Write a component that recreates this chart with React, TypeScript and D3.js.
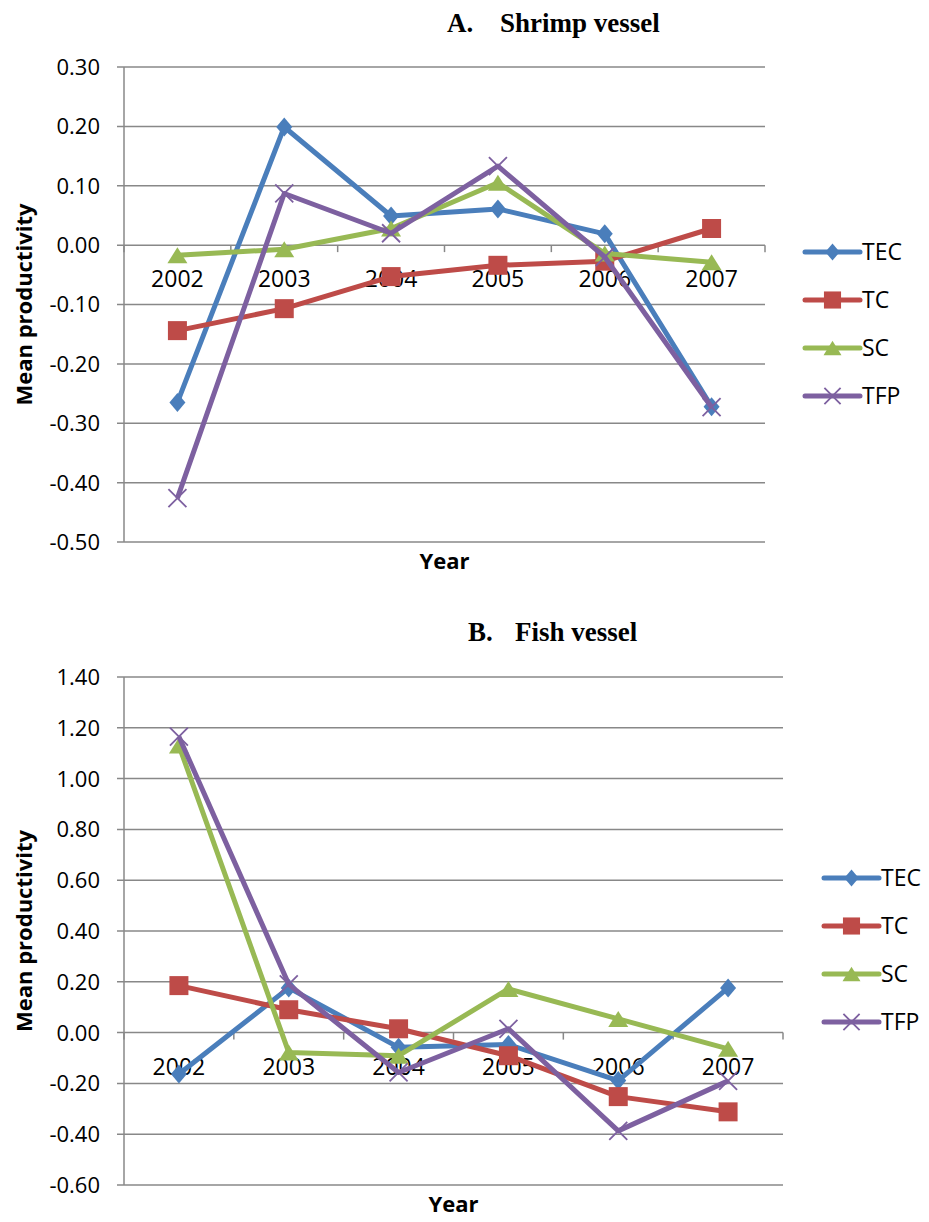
import React from 'react';
import * as d3 from 'd3';

// categories and series
const years = ['2002', '2003', '2004', '2005', '2006', '2007'];
const seriesNames = ['TEC', 'TC', 'SC', 'TFP'];
const seriesColors = ['#4A7EBB', '#BE4B48', '#98B954', '#7D60A0'];
const seriesMarkers = ['diamond', 'square', 'triangle', 'x'];

// A. Shrimp vessel
const shrimpTEC = [-0.265, 0.199, 0.049, 0.061, 0.019, -0.272];
const shrimpTC = [-0.144, -0.107, -0.053, -0.034, -0.027, 0.028];
const shrimpSC = [-0.017, -0.007, 0.028, 0.105, -0.014, -0.029];
const shrimpTFP = [-0.426, 0.087, 0.02, 0.133, -0.02, -0.273];
const shrimpTicks = [0.3, 0.2, 0.1, 0, -0.1, -0.2, -0.3, -0.4, -0.5];

// B. Fish vessel
const fishTEC = [-0.163, 0.176, -0.058, -0.047, -0.189, 0.176];
const fishTC = [0.185, 0.09, 0.015, -0.091, -0.252, -0.312];
const fishSC = [1.13, -0.078, -0.091, 0.172, 0.054, -0.064];
const fishTFP = [1.165, 0.19, -0.157, 0.015, -0.387, -0.19];
const fishTicks = [1.4, 1.2, 1.0, 0.8, 0.6, 0.4, 0.2, 0, -0.2, -0.4, -0.6];

const GRID = '#888888';
const SANS = '"Open Sans", "Liberation Sans", sans-serif';
const SERIF = '"Liberation Serif", "Times New Roman", serif';

const fmt = (v: number) => (Math.abs(v) < 1e-9 ? '0.00' : v.toFixed(2));

interface MarkerProps {
  kind: string;
  x: number;
  y: number;
  color: string;
  k?: number;
}

const Marker: React.FC<MarkerProps> = ({ kind, x, y, color, k = 1 }) => {
  if (kind === 'diamond') {
    const w = 8 * k, h = 9.5 * k;
    return <path d={`M${x},${y - h}L${x + w},${y}L${x},${y + h}L${x - w},${y}Z`} fill={color} />;
  }
  if (kind === 'square') {
    const s = 9.5 * k;
    return <rect x={x - s} y={y - s} width={2 * s} height={2 * s} fill={color} />;
  }
  if (kind === 'triangle') {
    const w = 10 * k, h = 8 * k;
    return <path d={`M${x},${y - h}L${x + w},${y + h}L${x - w},${y + h}Z`} fill={color} />;
  }
  const s = 9 * k;
  return (
    <path
      d={`M${x - s},${y - s}L${x + s},${y + s}M${x + s},${y - s}L${x - s},${y + s}`}
      stroke={color}
      strokeWidth={1.8}
      fill="none"
    />
  );
};

interface PanelProps {
  letter: string;
  name: string;
  letterX: number;
  nameX: number;
  titleY: number;
  series: number[][];
  ticks: number[];
  left: number;
  right: number;
  top: number;
  bottom: number;
  legendX: number;
  legendY: number;
}

const Panel: React.FC<PanelProps> = ({
  letter, name, letterX, nameX, titleY, series, ticks,
  left, right, top, bottom, legendX, legendY,
}) => {
  const x = d3.scalePoint<string>().domain(years).range([left, right]).padding(0.5);
  const step = x.step();
  const y = d3.scaleLinear()
    .domain([d3.min(ticks) as number, d3.max(ticks) as number])
    .range([bottom, top]);
  const y0 = y(0);

  const line = d3.line<number>()
    .x((_, i) => x(years[i]) as number)
    .y(d => y(d));

  return (
    <g>
      {/* title */}
      <text x={letterX} y={titleY} fontFamily={SERIF} fontWeight="bold" fontSize={27}>{letter}</text>
      <text x={nameX} y={titleY} fontFamily={SERIF} fontWeight="bold" fontSize={27}>{name}</text>

      {/* gridlines + y labels */}
      {ticks.map(t => (
        <g key={`g-${t}`}>
          <line x1={left - 7} x2={right} y1={y(t)} y2={y(t)} stroke={GRID} strokeWidth={1.5} />
          <text
            x={100}
            y={y(t)}
            dy="0.36em"
            textAnchor="end"
            fontFamily={SANS}
            fontSize={22}
            fill="#000"
          >
            {fmt(t)}
          </text>
        </g>
      ))}
      <line x1={left} x2={left} y1={top} y2={bottom} stroke={GRID} strokeWidth={1.5} />

      {/* category ticks on the zero line */}
      {d3.range(years.length + 1).map(i => (
        <line
          key={`xt-${i}`}
          x1={left + i * step}
          x2={left + i * step}
          y1={y0}
          y2={y0 + 7}
          stroke={GRID}
          strokeWidth={1.5}
        />
      ))}
      {years.map(yr => (
        <text
          key={`xl-${yr}`}
          x={x(yr)}
          y={y0 + 42}
          textAnchor="middle"
          fontFamily={SANS}
          fontSize={23}
        >
          {yr}
        </text>
      ))}

      {/* series */}
      {series.map((vals, si) => (
        <g key={`s-${si}`}>
          <path
            d={line(vals) || ''}
            fill="none"
            stroke={seriesColors[si]}
            strokeWidth={5}
            strokeLinejoin="round"
          />
          {vals.map((v, i) => (
            <Marker
              key={`m-${si}-${i}`}
              kind={seriesMarkers[si]}
              x={x(years[i]) as number}
              y={y(v)}
              color={seriesColors[si]}
            />
          ))}
        </g>
      ))}

      {/* axis titles */}
      <text
        x={(left + right) / 2}
        y={bottom + 27}
        textAnchor="middle"
        fontFamily={SANS}
        fontWeight="bold"
        fontSize={22}
      >
        Year
      </text>
      <text
        transform={`translate(32, ${(top + bottom) / 2}) rotate(-90)`}
        textAnchor="middle"
        fontFamily={SANS}
        fontWeight="bold"
        fontSize={22}
      >
        Mean productivity
      </text>

      {/* legend */}
      {seriesNames.map((s, si) => {
        const ly = legendY + si * 48;
        return (
          <g key={`lg-${s}`}>
            <line
              x1={legendX}
              x2={legendX + 55}
              y1={ly}
              y2={ly}
              stroke={seriesColors[si]}
              strokeWidth={5}
              strokeLinecap="round"
            />
            <Marker kind={seriesMarkers[si]} x={legendX + 27.5} y={ly} color={seriesColors[si]} k={0.9} />
            <text x={legendX + 57} y={ly} dy="0.36em" fontFamily={SANS} fontSize={23}>
              {s}
            </text>
          </g>
        );
      })}
    </g>
  );
};

export default function App() {
  return (
    <svg
      width={929}
      height={1222}
      style={{ position: 'absolute', left: 0, top: 0, background: '#fff' }}
    >
      <rect width={929} height={1222} fill="#fff" />
      <Panel
        letter="A."
        name="Shrimp vessel"
        letterX={447}
        nameX={500}
        titleY={32}
        series={[shrimpTEC, shrimpTC, shrimpSC, shrimpTFP]}
        ticks={shrimpTicks}
        left={124}
        right={765}
        top={67}
        bottom={542}
        legendX={805}
        legendY={252}
      />
      <Panel
        letter="B."
        name="Fish vessel"
        letterX={468}
        nameX={515}
        titleY={641}
        series={[fishTEC, fishTC, fishSC, fishTFP]}
        ticks={fishTicks}
        left={124}
        right={783}
        top={677}
        bottom={1185}
        legendX={824}
        legendY={878}
      />
    </svg>
  );
}
